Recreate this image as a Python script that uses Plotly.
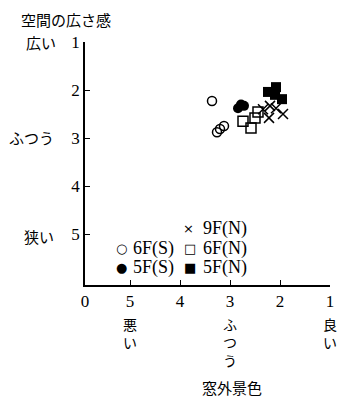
import plotly.graph_objects as go

# data (x: 窓外景色 score, y: 空間の広さ感 score)
s6_x = [3.36, 3.26, 3.20, 3.12]
s6_y = [2.23, 2.88, 2.81, 2.75]
s5_x = [2.84, 2.78, 2.72]
s5_y = [2.38, 2.30, 2.33]
n6_x = [2.74, 2.58, 2.50, 2.44]
n6_y = [2.65, 2.79, 2.58, 2.46]
n9_x = [2.34, 2.22, 2.08, 1.94, 2.20]
n9_y = [2.40, 2.58, 2.38, 2.50, 2.33]
n5_x = [2.24, 2.08, 2.10, 1.96]
n5_y = [2.04, 1.94, 2.10, 2.19]

x_tickvals = [5.9, 5, 4, 3, 2, 1]
x_ticktext = ["0", "5", "4", "3", "2", "1"]
y_tickvals = [1, 2, 3, 4, 5]
y_ticktext = ["1", "2", "3", "4", "5"]

SERIF = "Liberation Serif, DejaVu Serif, Noto Sans CJK JP"
JP = "Noto Sans CJK JP"

fig = go.Figure()
lw = dict(color="black", width=1.5)
fig.add_trace(go.Scatter(x=s6_x, y=s6_y, mode="markers",
                         marker=dict(symbol="circle-open", size=9, color="black", line=lw)))
fig.add_trace(go.Scatter(x=s5_x, y=s5_y, mode="markers",
                         marker=dict(symbol="circle", size=10, color="black")))
fig.add_trace(go.Scatter(x=n6_x, y=n6_y, mode="markers",
                         marker=dict(symbol="square-open", size=10, color="black", line=lw)))
fig.add_trace(go.Scatter(x=n9_x, y=n9_y, mode="markers",
                         marker=dict(symbol="x-thin-open", size=10, color="black", line=lw)))
fig.add_trace(go.Scatter(x=n5_x, y=n5_y, mode="markers",
                         marker=dict(symbol="square", size=10, color="black")))

# page coords of the plot area (includes the 8px body margin)
def px2paper_x(px):
    return (px - 85) / 245

def px2paper_y(py):
    return (285 - py) / 243

ann = []
# legend
leg = [("×", "9F(N)", 188, 201, 229), ("○", "6F(S)", 121, 131, 248),
       ("□", "6F(N)", 190, 201, 248), ("●", "5F(S)", 121, 131, 267),
       ("■", "5F(N)", 190, 201, 267)]
for sym, lab, sx, tx, py in leg:
    ann.append(dict(text=sym, x=px2paper_x(sx), y=px2paper_y(py), xref="paper", yref="paper",
                    showarrow=False, xanchor="center", yanchor="middle",
                    font=dict(family="DejaVu Sans", size=13, color="black")))
    ann.append(dict(text=lab, x=px2paper_x(tx), y=px2paper_y(py), xref="paper", yref="paper",
                    showarrow=False, xanchor="left", yanchor="middle",
                    font=dict(family=SERIF, size=18, color="black")))
# y-side labels
for txt, px, py in [("広い", 58, 42), ("ふつう", 56, 137), ("狭い", 56, 236)]:
    ann.append(dict(text=txt, x=px2paper_x(px), y=px2paper_y(py), xref="paper", yref="paper",
                    showarrow=False, xanchor="right", yanchor="middle",
                    font=dict(family=JP, size=15, color="black")))
ann.append(dict(text="空間の広さ感", x=px2paper_x(20), y=px2paper_y(8), xref="paper", yref="paper",
                showarrow=False, xanchor="left", yanchor="top", borderpad=0,
                font=dict(family=JP, size=15, color="black")))
# x-side labels (vertical text)
for txt, xv in [("悪<br>い", 5), ("ふ<br>つ<br>う", 3), ("良<br>い", 1)]:
    ann.append(dict(text=txt, x=xv, y=px2paper_y(312), xref="x", yref="paper",
                    showarrow=False, xanchor="center", yanchor="top",
                    font=dict(family=JP, size=14, color="black")))
ann.append(dict(text="窓外景色", x=px2paper_x(232), y=px2paper_y(387), xref="paper", yref="paper",
                showarrow=False, xanchor="center", yanchor="middle",
                font=dict(family=JP, size=15, color="black")))

fig.update_layout(
    width=355, height=406,
    margin=dict(l=77, r=33, t=34, b=129),
    paper_bgcolor="white", plot_bgcolor="white",
    showlegend=False,
    annotations=ann,
    xaxis=dict(range=[5.9, 1], tickvals=x_tickvals, ticktext=x_ticktext,
               ticks="inside", ticklen=5, tickcolor="black", tickwidth=1,
               showline=True, linecolor="black", linewidth=1.5, showgrid=False,
               zeroline=False, automargin=False,
               tickfont=dict(family=SERIF, size=17, color="black")),
    yaxis=dict(range=[6.06, 1], tickvals=y_tickvals, ticktext=y_ticktext,
               ticks="inside", ticklen=5, tickcolor="black", tickwidth=1,
               showline=True, linecolor="black", linewidth=1.5, showgrid=False,
               zeroline=False, automargin=False,
               tickfont=dict(family=SERIF, size=17, color="black")),
)

fig.write_html("out.html")
